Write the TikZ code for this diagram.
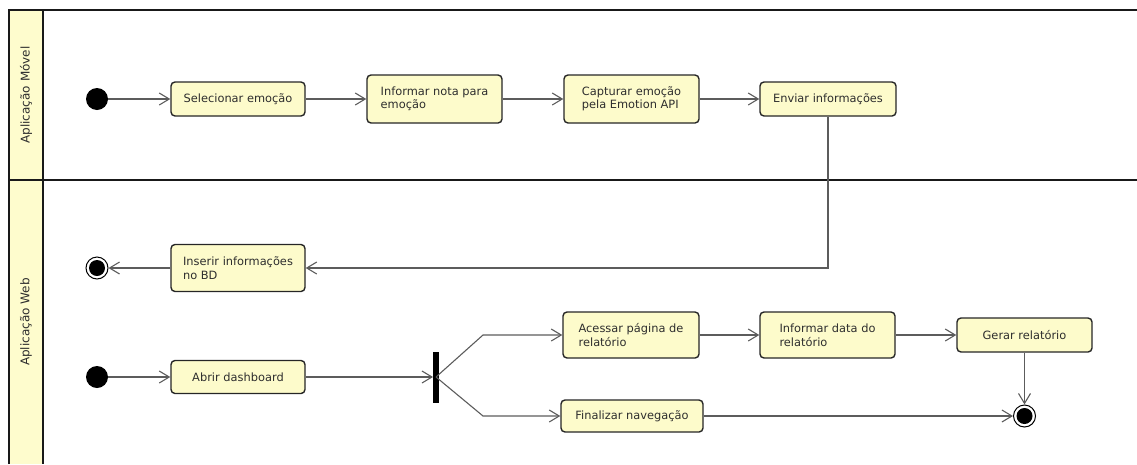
\documentclass[tikz,border=0pt]{standalone}
\usepackage{fontspec}
\setmainfont{DejaVu Sans}
\usetikzlibrary{arrows.meta}
\definecolor{actfill}{HTML}{FDFBCB}
\definecolor{lanefill}{HTML}{FEFCCD}
\definecolor{conn}{HTML}{5C5C5C}
\definecolor{txt}{HTML}{2E2E2E}
\tikzset{
  act/.style={rectangle, rounded corners=4pt, draw=black!85, line width=1.4pt, fill=actfill,
    align=left, font=\fontsize{11.4}{13.5}\selectfont, text=txt, inner sep=2pt},
  startnode/.style={circle, fill=black, minimum size=22pt, inner sep=0pt},
  endnode/.style={circle, draw=black, line width=1pt, fill=white, minimum size=22pt, inner sep=0pt,
    path picture={\fill[black] (path picture bounding box.center) circle (8pt);}},
  forkbar/.style={rectangle, fill=black, minimum width=5.5pt, minimum height=51pt, inner sep=0pt},
  flow/.style={draw=conn, line width=1.1pt, -{Straight Barb[length=10pt,width=12pt]}},
  frame/.style={draw=black!90, line width=1.8pt},
  lanelabel/.style={rotate=90, font=\fontsize{12}{14}\selectfont, text=txt},
}
\begin{document}
\begin{tikzpicture}[x=1pt, y=-1pt]
\useasboundingbox (0,0) rectangle (1137,464);
% lanes
\fill[lanefill] (9,10) rectangle (43,464);
\draw[frame] (9,464) -- (9,10) -- (1137,10);
\draw[frame] (43,10) -- (43,464);
\draw[frame] (9,180) -- (1137,180);
\node[lanelabel] (lane1) at (26,95) {Aplicação Móvel};
\node[lanelabel] (lane2) at (26,322) {Aplicação Web};
% top lane
\node[startnode] (i1) at (97,99) {};
\node[act, minimum width=134pt, minimum height=34pt, align=center] (sel) at (238,99) {Selecionar emoção};
\node[act, minimum width=135pt, minimum height=48pt] (inf) at (434.5,99) {Informar nota para\\emoção};
\node[act, minimum width=135pt, minimum height=48pt] (cap) at (631.5,99) {Capturar emoção\\pela Emotion API};
\node[act, minimum width=136pt, minimum height=34pt, align=center] (env) at (828,99) {Enviar informações};
% bottom lane
\node[endnode] (f1) at (97,268) {};
\node[act, minimum width=134pt, minimum height=47pt] (ins) at (238,268) {Inserir informações\\no BD};
\node[startnode] (i2) at (97,377) {};
\node[act, minimum width=134pt, minimum height=33pt, align=center] (abr) at (238,377) {Abrir dashboard};
\node[forkbar] (fork) at (436,377) {};
\node[act, minimum width=136pt, minimum height=46pt] (acc) at (631,335) {Acessar página de\\relatório};
\node[act, minimum width=135pt, minimum height=46pt] (dat) at (827.5,335) {Informar data do\\relatório};
\node[act, minimum width=135pt, minimum height=34pt, align=center] (ger) at (1024.5,335) {Gerar relatório};
\node[act, minimum width=142pt, minimum height=32pt, align=center] (fin) at (632,416) {Finalizar navegação};
\node[endnode] (f2) at (1024.5,416) {};
\coordinate (bu) at (483,335);
\coordinate (bd) at (483,416);
% connectors
\draw[flow] (i1) -- (sel);
\draw[flow] (sel) -- (inf);
\draw[flow] (inf) -- (cap);
\draw[flow] (cap) -- (env);
\draw[flow] (env.south) |- (ins.east);
\draw[flow] (ins) -- (f1);
\draw[flow] (i2) -- (abr);
\draw[flow] (abr) -- (fork);
\draw[flow] (fork.center) -- (bu) -- (acc.west);
\draw[flow] (fork.center) -- (bd) -- (fin.west);
\draw[flow] (acc) -- (dat);
\draw[flow] (dat) -- (ger);
\draw[flow] (ger) -- (f2);
\draw[flow] (fin) -- (f2);
\end{tikzpicture}
\end{document}
